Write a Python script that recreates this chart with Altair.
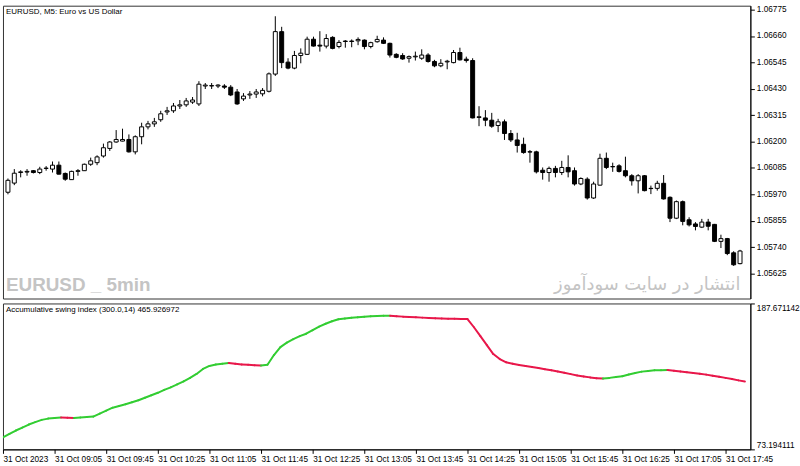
import altair as alt
import pandas as pd

opens = [1.05979,1.06019,1.06065,1.06067,1.06073,1.06065,1.06083,1.06080,1.06097,1.06061,
         1.06034,1.06070,1.06073,1.06101,1.06108,1.06137,1.06170,1.06198,1.06202,1.06209,
         1.06155,1.06221,1.06264,1.06277,1.06295,1.06329,1.06334,1.06355,1.06360,1.06372,
         1.06364,1.06442,1.06442,1.06442,1.06442,1.06437,1.06416,1.06386,1.06403,1.06407,
         1.06408,1.06419,1.06494,1.06679,1.06546,1.06520,1.06575,1.06580,1.06646,1.06620,
         1.06616,1.06654,1.06614,1.06638,1.06638,1.06639,1.06642,1.06614,1.06635,1.06642,
         1.06628,1.06580,1.06575,1.06563,1.06569,1.06563,1.06577,1.06549,1.06530,1.06547,
         1.06544,1.06588,1.06559,1.06553,1.06305,1.06303,1.06293,1.06270,1.06286,1.06235,
         1.06207,1.06188,1.06154,1.06155,1.06075,1.06065,1.06083,1.06065,1.06087,1.06073,
         1.06015,1.06036,1.05954,1.06010,1.06127,1.06091,1.06094,1.06073,1.06051,1.06029,
         1.06051,1.05996,1.05996,1.06018,1.05957,1.05866,1.05938,1.05859,1.05841,1.05827,
         1.05849,1.05839,1.05765,1.05777,1.05715,1.05668]
highs = [1.06039,1.06080,1.06075,1.06080,1.06076,1.06090,1.06093,1.06113,1.06113,1.06065,
         1.06073,1.06080,1.06104,1.06130,1.06140,1.06191,1.06202,1.06250,1.06256,1.06231,
         1.06227,1.06282,1.06290,1.06303,1.06334,1.06351,1.06368,1.06381,1.06390,1.06394,
         1.06463,1.06455,1.06455,1.06450,1.06450,1.06446,1.06429,1.06411,1.06420,1.06429,
         1.06433,1.06501,1.06746,1.06700,1.06563,1.06595,1.06606,1.06657,1.06657,1.06681,
         1.06668,1.06659,1.06642,1.06642,1.06645,1.06654,1.06645,1.06635,1.06661,1.06654,
         1.06631,1.06585,1.06585,1.06575,1.06592,1.06602,1.06585,1.06556,1.06559,1.06556,
         1.06599,1.06609,1.06570,1.06563,1.06354,1.06337,1.06325,1.06299,1.06296,1.06250,
         1.06238,1.06217,1.06163,1.06160,1.06087,1.06091,1.06094,1.06116,1.06140,1.06087,
         1.06044,1.06044,1.06025,1.06147,1.06152,1.06108,1.06101,1.06134,1.06058,1.06058,
         1.06054,1.06008,1.06029,1.06054,1.05961,1.05943,1.05943,1.05870,1.05849,1.05863,
         1.05863,1.05841,1.05794,1.05780,1.05722,1.05728]
lows = [1.05970,1.06010,1.06044,1.06051,1.06061,1.06058,1.06073,1.06065,1.06057,1.06029,
        1.06033,1.06051,1.06072,1.06094,1.06097,1.06130,1.06159,1.06195,1.06201,1.06152,
        1.06144,1.06188,1.06253,1.06264,1.06286,1.06316,1.06325,1.06342,1.06351,1.06364,
        1.06355,1.06429,1.06429,1.06433,1.06429,1.06398,1.06360,1.06377,1.06386,1.06390,
        1.06397,1.06414,1.06486,1.06520,1.06515,1.06515,1.06541,1.06577,1.06614,1.06592,
        1.06606,1.06602,1.06606,1.06609,1.06611,1.06620,1.06602,1.06606,1.06631,1.06625,
        1.06566,1.06563,1.06556,1.06544,1.06553,1.06556,1.06544,1.06524,1.06524,1.06515,
        1.06541,1.06553,1.06544,1.06301,1.06267,1.06267,1.06260,1.06241,1.06207,1.06198,
        1.06152,1.06147,1.06108,1.06061,1.06034,1.06025,1.06044,1.06054,1.06044,1.06008,
        1.06010,1.05947,1.05950,1.06008,1.06080,1.06068,1.06065,1.06044,1.06008,1.05974,
        1.05983,1.05971,1.05986,1.05947,1.05849,1.05862,1.05835,1.05830,1.05813,1.05823,
        1.05813,1.05762,1.05736,1.05705,1.05658,1.05665]
closes = [1.06031,1.06062,1.06068,1.06070,1.06065,1.06080,1.06084,1.06097,1.06058,1.06036,
          1.06070,1.06073,1.06101,1.06116,1.06133,1.06173,1.06198,1.06209,1.06209,1.06155,
          1.06221,1.06264,1.06277,1.06286,1.06321,1.06334,1.06355,1.06360,1.06377,1.06381,
          1.06450,1.06446,1.06444,1.06446,1.06437,1.06403,1.06364,1.06398,1.06407,1.06416,
          1.06423,1.06495,1.06679,1.06544,1.06520,1.06575,1.06585,1.06646,1.06616,1.06616,
          1.06649,1.06606,1.06632,1.06636,1.06636,1.06645,1.06614,1.06631,1.06645,1.06628,
          1.06577,1.06567,1.06560,1.06570,1.06572,1.06577,1.06549,1.06530,1.06541,1.06550,
          1.06588,1.06556,1.06553,1.06303,1.06308,1.06293,1.06267,1.06286,1.06235,1.06207,
          1.06183,1.06152,1.06156,1.06068,1.06065,1.06083,1.06065,1.06087,1.06068,1.06015,
          1.06039,1.05954,1.06015,1.06127,1.06087,1.06090,1.06070,1.06051,1.06029,1.06051,
          1.05986,1.05995,1.06018,1.05950,1.05866,1.05938,1.05852,1.05837,1.05830,1.05849,
          1.05831,1.05765,1.05777,1.05712,1.05663,1.05723]
asi = [82.54,85.26,87.99,90.33,92.67,94.61,96.33,97.34,97.81,98.20,
       98.04,97.88,98.27,98.51,98.90,101.23,103.57,105.91,107.23,108.63,
       110.19,111.75,113.70,115.65,117.59,119.93,121.88,124.21,126.55,129.28,
       132.39,136.29,138.63,139.79,140.42,140.96,140.34,139.79,139.56,139.17,
       138.94,139.64,147.20,153.43,156.93,159.66,162.00,163.94,166.67,169.55,
       171.73,173.68,175.24,175.86,176.41,176.80,177.19,177.58,177.89,178.04,
       178.12,177.73,177.34,177.03,176.80,176.56,176.33,176.02,175.86,175.71,
       175.63,175.55,175.47,169.01,162.00,154.99,147.97,144.08,141.51,140.34,
       139.41,138.63,137.85,137.07,136.13,135.28,134.34,133.33,132.24,131.23,
       130.45,129.67,129.04,128.73,129.28,129.90,130.60,132.00,133.17,134.19,
       134.73,135.20,135.35,135.43,134.89,134.34,133.72,133.10,132.47,131.85,
       130.99,130.13,129.28,128.34,127.33,126.40]
time_labels = ["31 Oct 2023", "31 Oct 09:05", "31 Oct 09:45", "31 Oct 10:25", "31 Oct 11:05",
               "31 Oct 11:45", "31 Oct 12:25", "31 Oct 13:05", "31 Oct 13:45", "31 Oct 14:25",
               "31 Oct 15:05", "31 Oct 15:45", "31 Oct 16:25", "31 Oct 17:05", "31 Oct 17:45"]
price_ticks = [1.05625, 1.05740, 1.05855, 1.05970, 1.06085, 1.06200,
               1.06315, 1.06430, 1.06545, 1.06660, 1.06775]
asi_ticks = [73.194111, 187.671142]
title_text = "EURUSD, M5:  Euro vs US Dollar"
ind_text = "Accumulative swing index (300.0,14) 465.926972"
wm_text = "EURUSD _ 5min"
fa_text = "انتشار در سایت سودآموز"

FONT = "Liberation Sans"
W = 753
n = len(opens)
bars_per_tick = 8

df = pd.DataFrame({"i": list(range(n)), "open": opens, "high": highs,
                   "low": lows, "close": closes})
df["dir"] = ["up" if c >= o else "down" for o, c in zip(opens, closes)]

seg = pd.DataFrame({"i": list(range(n - 1)), "i2": list(range(1, n)),
                    "v": asi[:-1], "v2": asi[1:]})
seg["dir"] = ["up" if b >= a else "down" for a, b in zip(asi[:-1], asi[1:])]

xdom = [0, W / 6.5]
xscale = alt.Scale(domain=xdom, nice=False, zero=False)
pscale = alt.Scale(domain=[1.05516, 1.06792], nice=False, zero=False)
ascale = alt.Scale(domain=[asi_ticks[0], asi_ticks[1]], nice=False, zero=False)

price_axis = alt.Axis(orient="right", values=price_ticks, format=".5f", title=None,
                      tickSize=4, labelPadding=2, grid=False, domain=True,
                      labelOverlap=False, labelBound=False,
                      domainColor="#000", tickColor="#000")

base = alt.Chart(df)
wicks = base.mark_rule(color="black", strokeWidth=1, clip=True).encode(
    x=alt.X("i:Q", scale=xscale, axis=None),
    y=alt.Y("high:Q", scale=pscale, axis=price_axis),
    y2="low:Q",
)
bodies = base.mark_bar(width=4, stroke="black", strokeWidth=1, clip=True).encode(
    x=alt.X("i:Q", scale=xscale, axis=None),
    y=alt.Y("open:Q", scale=pscale, axis=price_axis),
    y2="close:Q",
    fill=alt.Fill("dir:N", scale=alt.Scale(domain=["up", "down"], range=["white", "black"]),
                  legend=None),
)

def label(txt, x, y, size, color="#000", align="left", weight="normal", font=FONT):
    return alt.Chart(pd.DataFrame({"t": [txt]})).mark_text(
        align=align, baseline="middle", fontSize=size, color=color,
        fontWeight=weight, font=font).encode(
        x=alt.value(x), y=alt.value(y), text="t:N")

top = alt.layer(
    wicks, bodies,
    label(title_text, 3, 6, 8),
    label(wm_text, 3, 281, 19, color="#C4C4C4", weight="bold"),
    label(fa_text, 743, 281, 18, color="#C4C4C4", align="right", font="DejaVu Sans"),
).properties(width=W, height=295)

expr = "[" + ",".join("'%s'" % t for t in time_labels) + "][round(datum.value/%d)]" % bars_per_tick
line = alt.Chart(seg).mark_rule(strokeWidth=2, strokeCap="round", clip=True).encode(
    x=alt.X("i:Q", scale=xscale,
            axis=alt.Axis(values=[k * bars_per_tick for k in range(len(time_labels))],
                          labelExpr=expr, labelAlign="left", tickSize=4, labelPadding=1,
                          grid=False, title=None, domain=True, domainColor="#000",
                          tickColor="#000", labelFlush=False, labelOverlap=False)),
    x2="i2:Q",
    y=alt.Y("v:Q", scale=ascale,
            axis=alt.Axis(orient="right", values=asi_ticks, format=".6f", title=None,
                          tickSize=4, labelPadding=2, grid=False, labelFlush=True,
                          labelOverlap=False,
                          domainColor="#000", tickColor="#000")),
    y2="v2:Q",
    color=alt.Color("dir:N", scale=alt.Scale(domain=["up", "down"], range=["#32CD32", "#E8174A"]),
                    legend=None),
)
bottom = alt.layer(line, label(ind_text, 3, 7, 8)).properties(width=W, height=147)

chart = alt.vconcat(top, bottom, spacing=3).properties(
    padding={"left": 2, "top": 2, "right": 0, "bottom": 0},
    background="white",
).configure_view(stroke="#333", strokeWidth=1).configure_axis(
    labelFont=FONT, labelFontSize=8.3, labelColor="#000", labelOverlap=False
)

chart.save("out.html", embed_options={"renderer": "svg", "actions": False})
